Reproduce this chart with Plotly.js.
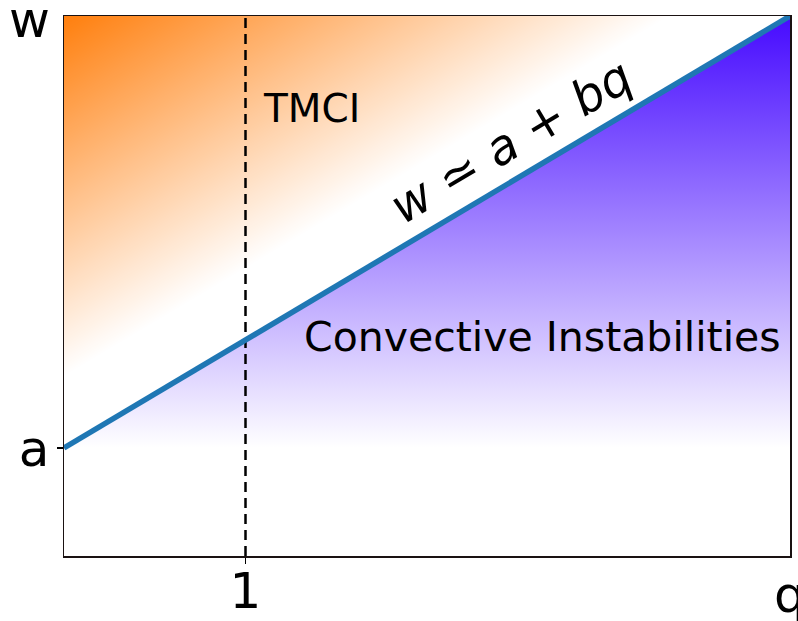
<!DOCTYPE html>
<html>
<head>
<meta charset="utf-8">
<script src="https://cdn.plot.ly/plotly-3.0.1.min.js"></script>
<style>html,body{margin:0;padding:0;background:#fff;}#chart{width:798px;height:621px;}</style>
</head>
<body>
<div id="chart"></div>
<script>
// Axis extents (q horizontal, w vertical)
const qRange = [0, 4];
const wRange = [0, 5];

// Boundary line w = a + b q
const lineQ = [0, 4];
const lineW = [1, 5];

// Threshold q = 1 (dashed)
const threshQ = [1, 1];
const threshW = [0, 5];

// Tick labels
const xTickVals = [1];
const xTickText = ['1'];
const yTickVals = [1];
const yTickText = ['a'];

// TMCI shading: intensity grid (corner values of w - q)
const tmciGridQ = [0, 4];
const tmciGridW = [0, 5];
const tmciGridZ = [[0, -4], [5, 1]];
const tmciZmin = 1.67;
const tmciZmax = 5;

// Convective region polygon (below the line)
const convQ = [0, 0, 4, 4];
const convW = [0, 1, 5, 0];

const orange = 'rgba(255,127,14,1)';

const traces = [
  {
    type: 'heatmap', x: tmciGridQ, y: tmciGridW, z: tmciGridZ,
    zmin: tmciZmin, zmax: tmciZmax, zsmooth: 'best', showscale: false,
    colorscale: [[0, 'rgba(255,127,14,0)'], [1, orange]], hoverinfo: 'skip'
  },
  {
    type: 'scatter', mode: 'none', x: convQ, y: convW, fill: 'toself',
    fillgradient: {type: 'vertical', start: 1, stop: 5,
      colorscale: [[0, 'rgba(70,10,255,0)'], [1, 'rgba(70,10,255,1)']]},
    hoverinfo: 'skip', showlegend: false
  },
  {
    type: 'scatter', mode: 'lines', x: threshQ, y: threshW,
    line: {color: '#000', width: 2.5, dash: '10px,6px'}, showlegend: false, hoverinfo: 'skip'
  },
  {
    type: 'scatter', mode: 'lines', x: lineQ, y: lineW,
    line: {color: '#1f77b4', width: 5.5}, showlegend: false, hoverinfo: 'skip', cliponaxis: true
  }
];

const font = 'DejaVu Sans, sans-serif';
const layout = {
  width: 798, height: 621,
  margin: {l: 64, r: 8, t: 16, b: 65},
  paper_bgcolor: '#fff', plot_bgcolor: '#fff',
  showlegend: false,
  font: {family: font, color: '#000'},
  xaxis: {
    range: qRange, showgrid: false, zeroline: false,
    showline: true, mirror: true, linecolor: '#1a1212', linewidth: 1.5,
    tickmode: 'array', tickvals: xTickVals, ticktext: xTickText,
    ticks: 'outside', ticklen: 6, tickwidth: 1.5, tickcolor: '#000',
    ticklabelstandoff: -16,
    tickfont: {family: font, size: 50, color: '#000'}, fixedrange: true
  },
  yaxis: {
    range: wRange, showgrid: false, zeroline: false,
    showline: true, mirror: true, linecolor: '#1a1212', linewidth: 1.5,
    tickmode: 'array', tickvals: yTickVals, ticktext: yTickText,
    ticks: 'outside', ticklen: 6, tickwidth: 1.5, tickcolor: '#000',
    ticklabelstandoff: -3,
    tickfont: {family: font, size: 50, color: '#000'}, fixedrange: true
  },
  annotations: [
    {xref: 'paper', yref: 'y', x: 0, y: wRange[1], text: 'w', showarrow: false,
     xanchor: 'right', yanchor: 'middle', xshift: -12, yshift: -4,
     font: {family: font, size: 50, color: '#000'}},
    {xref: 'x', yref: 'paper', x: qRange[1], y: 0, text: 'q', showarrow: false,
     xanchor: 'center', yanchor: 'top', yshift: -8,
     font: {family: font, size: 50, color: '#000'}},
    {xref: 'x', yref: 'y', x: 1.366, y: 4.139, text: 'TMCI', showarrow: false,
     xanchor: 'center', yanchor: 'middle',
     font: {family: font, size: 39, color: '#000'}},
    {xref: 'x', yref: 'y', x: 2.634, y: 2.028, text: 'Convective Instabilities', showarrow: false,
     xanchor: 'center', yanchor: 'middle',
     font: {family: font, size: 41, color: '#000'}},
    {xref: 'x', yref: 'y', x: 2.462, y: 3.845, text: '<i>w</i> ≃ <i>a</i> + <i>bq</i>', showarrow: false,
     xanchor: 'center', yanchor: 'middle', textangle: -30.75,
     font: {family: font, size: 48, color: '#000'}}
  ]
};

Plotly.newPlot('chart', traces, layout, {displayModeBar: false, staticPlot: true});
</script>
</body>
</html>
